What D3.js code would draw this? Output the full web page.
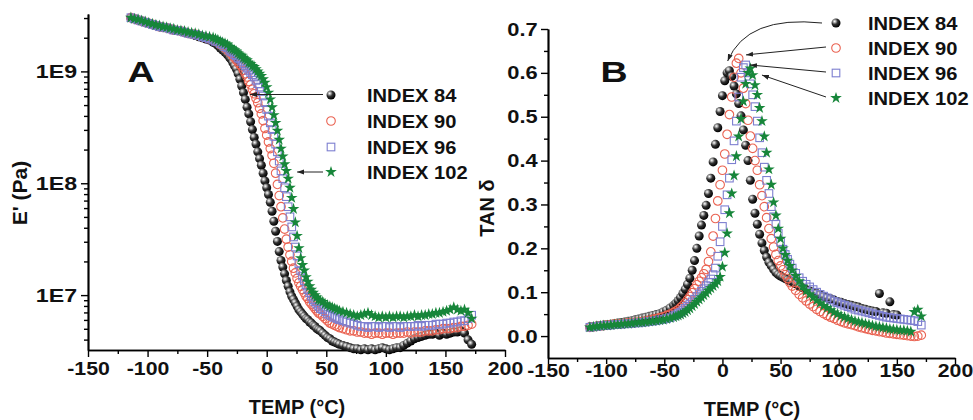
<!DOCTYPE html>
<html>
<head>
<meta charset="utf-8">
<script src="https://cdn.jsdelivr.net/npm/d3@7"></script>
<style>
  body { margin: 0; background: #fff; }
  svg text { font-family: "Liberation Sans", Arial, Helvetica, sans-serif; font-weight: bold; fill: #111; }
</style>
</head>
<body>
<div id="chart"></div>
<script>

// ---- data ----
// panel A : storage modulus E' (Pa) vs temperature
var tempsA = [-114,-111,-108,-105,-102,-99,-96,-93,-90,-87,-84,-81,-78,-75,-72,-69,-66,-63,-60,-57,-54,-51,-48,-45,
  -43,-41,-39,-37,-35,-33,-31,
  -30,-28.5,-27,-25.5,-24,-22.5,-21,-19.5,-18,-16.5,-15,-13.5,-12,-10.5,-9,-7.5,-6,-4.5,-3,-1.5,
  0,1.5,3,4.5,6,7.5,9,10.5,12,13.5,15,16.5,18,19.5,21,22.5,24,25.5,27,28.5,30,31.5,33,34.5,36,37.5,39,40.5,42,43.5,45,
  47,49,51,53,55,57,59,61,
  64,67,70,73,76,79,82,85,88,91,94,97,100,103,106,109,112,115,118,121,124,127,130,133,136,139,142,145,148,151,154,157,160,163,166,169,172];

var modA84 = [3.02e9,2.95e9,2.88e9,2.82e9,2.75e9,2.69e9,2.63e9,2.57e9,2.51e9,2.48e9,2.45e9,2.40e9,2.34e9,2.32e9,2.29e9,2.24e9,2.19e9,2.16e9,2.09e9,2.04e9,2.00e9,1.95e9,1.91e9,1.82e9,
  1.78e9,1.70e9,1.62e9,1.55e9,1.48e9,1.41e9,1.32e9,
  1.29e9,1.20e9,1.12e9,1.05e9,9.55e8,8.51e8,7.41e8,6.46e8,5.62e8,4.79e8,4.17e8,3.55e8,3.02e8,2.57e8,2.24e8,1.91e8,1.66e8,1.45e8,1.23e8,1.05e8,
  9.12e7,7.94e7,6.76e7,5.62e7,4.57e7,3.72e7,3.02e7,2.45e7,2.04e7,1.78e7,1.55e7,1.35e7,1.20e7,1.07e7,9.77e6,9.12e6,8.51e6,7.94e6,7.41e6,7.08e6,6.76e6,6.46e6,6.17e6,6.03e6,5.75e6,5.62e6,5.37e6,5.25e6,5.01e6,4.90e6,4.79e6,
  4.57e6,4.37e6,4.17e6,4.07e6,3.89e6,3.80e6,3.72e6,3.63e6,
  3.55e6,3.47e6,3.39e6,3.31e6,3.31e6,3.24e6,3.31e6,3.24e6,3.31e6,3.24e6,3.31e6,3.39e6,3.31e6,3.24e6,3.31e6,3.39e6,3.39e6,3.55e6,3.72e6,3.89e6,
  4.07e6,4.17e6,4.27e6,4.37e6,4.47e6,4.47e6,4.57e6,4.37e6,4.57e6,4.47e6,4.57e6,4.68e6,4.68e6,4.79e6,4.57e6,3.98e6,3.63e6];

var modA90 = [3.02e9,2.95e9,2.88e9,2.82e9,2.75e9,2.69e9,2.63e9,2.57e9,2.51e9,2.48e9,2.45e9,2.40e9,2.34e9,2.32e9,2.29e9,2.24e9,2.19e9,2.16e9,2.14e9,2.09e9,2.04e9,2.00e9,1.95e9,1.91e9,
  1.86e9,1.82e9,1.74e9,1.70e9,1.62e9,1.55e9,1.48e9,
  1.45e9,1.38e9,1.32e9,1.26e9,1.20e9,1.15e9,1.10e9,1.02e9,9.55e8,8.91e8,8.13e8,7.59e8,6.92e8,6.31e8,5.75e8,5.25e8,4.68e8,4.17e8,3.63e8,3.09e8,
  2.69e8,2.34e8,2.04e8,1.78e8,1.51e8,1.23e8,9.77e7,7.76e7,6.17e7,4.90e7,3.89e7,3.16e7,2.69e7,2.29e7,2.00e7,1.74e7,1.58e7,1.41e7,1.29e7,1.20e7,1.12e7,1.05e7,9.77e6,9.33e6,8.71e6,8.32e6,7.94e6,7.59e6,7.24e6,6.92e6,6.76e6,
  6.46e6,6.17e6,5.89e6,5.62e6,5.50e6,5.37e6,5.25e6,5.13e6,
  5.01e6,4.90e6,4.79e6,4.79e6,4.68e6,4.68e6,4.57e6,4.57e6,4.47e6,4.57e6,4.57e6,4.47e6,4.57e6,4.57e6,4.47e6,4.57e6,4.57e6,4.57e6,4.68e6,4.57e6,
  4.68e6,4.68e6,4.68e6,4.79e6,4.79e6,4.79e6,4.90e6,4.90e6,5.01e6,5.01e6,5.01e6,5.13e6,5.13e6,5.25e6,5.25e6,5.37e6,5.50e6];

var modA96 = [3.02e9,2.95e9,2.88e9,2.82e9,2.75e9,2.69e9,2.63e9,2.57e9,2.51e9,2.48e9,2.45e9,2.40e9,2.34e9,2.32e9,2.29e9,2.24e9,2.19e9,2.16e9,2.14e9,2.09e9,2.04e9,2.00e9,1.95e9,1.91e9,
  1.86e9,1.84e9,1.78e9,1.74e9,1.66e9,1.62e9,1.55e9,
  1.51e9,1.48e9,1.41e9,1.38e9,1.32e9,1.29e9,1.23e9,1.17e9,1.12e9,1.07e9,1.02e9,9.77e8,9.33e8,8.91e8,8.32e8,7.76e8,7.24e8,6.61e8,6.03e8,5.25e8,
  4.57e8,3.98e8,3.47e8,3.02e8,2.63e8,2.24e8,1.91e8,1.58e8,1.29e8,1.10e8,9.12e7,7.59e7,6.17e7,5.01e7,4.07e7,3.31e7,2.69e7,2.24e7,1.91e7,1.66e7,1.48e7,1.35e7,1.23e7,1.12e7,1.05e7,9.77e6,9.12e6,8.71e6,8.32e6,7.94e6,7.59e6,
  7.41e6,7.08e6,6.76e6,6.61e6,6.46e6,6.31e6,6.17e6,6.03e6,
  5.89e6,5.75e6,5.62e6,5.50e6,5.37e6,5.25e6,5.25e6,5.13e6,5.25e6,5.25e6,5.13e6,5.25e6,5.25e6,5.13e6,5.25e6,5.25e6,5.13e6,5.25e6,5.25e6,5.25e6,
  5.25e6,5.37e6,5.25e6,5.37e6,5.37e6,5.37e6,5.50e6,5.50e6,5.50e6,5.62e6,5.62e6,5.75e6,5.75e6,5.89e6,5.89e6,6.17e6,6.61e6];

var modA102 = [3.02e9,2.95e9,2.92e9,2.85e9,2.79e9,2.72e9,2.66e9,2.60e9,2.57e9,2.51e9,2.48e9,2.43e9,2.40e9,2.34e9,2.32e9,2.29e9,2.24e9,2.21e9,2.19e9,2.14e9,2.09e9,2.07e9,2.04e9,2.00e9,
  1.95e9,1.91e9,1.86e9,1.82e9,1.78e9,1.74e9,1.66e9,
  1.62e9,1.58e9,1.55e9,1.51e9,1.45e9,1.41e9,1.38e9,1.32e9,1.29e9,1.26e9,1.20e9,1.17e9,1.12e9,1.10e9,1.05e9,1.00e9,9.55e8,9.12e8,8.51e8,7.94e8,
  7.24e8,6.46e8,5.62e8,4.79e8,4.07e8,3.47e8,2.95e8,2.45e8,2.04e8,1.74e8,1.48e8,1.29e8,1.10e8,9.12e7,7.41e7,5.89e7,4.47e7,3.39e7,2.63e7,2.14e7,1.86e7,1.66e7,1.45e7,1.32e7,1.20e7,1.12e7,1.05e7,1.00e7,9.55e6,9.12e6,8.91e6,
  8.71e6,8.32e6,8.13e6,7.94e6,7.76e6,7.59e6,7.41e6,7.24e6,
  7.08e6,6.92e6,6.76e6,6.61e6,6.46e6,6.61e6,6.76e6,6.92e6,6.61e6,6.46e6,6.31e6,6.46e6,6.31e6,6.46e6,6.31e6,6.46e6,6.46e6,6.31e6,6.46e6,6.46e6,
  6.61e6,6.46e6,6.61e6,6.61e6,6.76e6,6.76e6,6.92e6,6.92e6,7.08e6,7.24e6,7.41e6,7.76e6,7.41e6,7.24e6,7.41e6,6.92e6,6.17e6];

// panel B : tan delta vs temperature
var tempsB = [-114,-111,-108,-105,-102,-99,-96,-93,-90,-87,-84,-81,-78,-75,-72,-69,-66,-63,-60,-57,-54,-51,-48,-45,-42,
  -40,-38,-36,-34,-32,-30,-28,-26,-24,-22,-20,-18,-16,-14,-12,-10,-8,-6,-4,-2,
  0,2,4,6,8,10,12,14,16,18,20,22,24,26,28,30,32,34,36,38,40,42,44,46,48,50,52,54,56,58,60,
  63,66,69,72,75,78,81,84,87,90,93,96,99,102,105,108,111,114,117,120,123,126,129,132,135,138,141,144,147,150,153,156,159,162,165,168,171];

var tanB84 = [0.021,0.022,0.023,0.024,0.025,0.026,0.027,0.028,0.030,0.031,0.032,0.034,0.035,0.037,0.039,0.041,0.043,0.045,0.047,0.049,0.051,0.055,0.059,0.064,0.070,
  0.075,0.081,0.088,0.097,0.107,0.118,0.132,0.150,0.172,0.200,0.228,0.253,0.275,0.298,0.325,0.360,0.397,0.437,0.475,0.512,
  0.548,0.582,0.600,0.605,0.592,0.570,0.552,0.530,0.502,0.470,0.435,0.400,0.355,0.312,0.280,0.255,0.232,0.212,0.195,0.180,0.168,0.160,0.152,0.145,0.140,0.137,0.134,0.131,0.128,0.126,0.124,
  0.119,0.114,0.110,0.106,0.103,0.100,0.097,0.094,0.090,0.087,0.085,0.082,0.079,0.077,0.074,0.072,0.070,0.068,0.066,0.063,0.061,0.059,0.057,0.056,0.097,0.053,0.052,0.078,0.049,0.048,null,null,null,null,null,null,null];

var tanB90 = [0.020,0.021,0.022,0.023,0.024,0.025,0.026,0.027,0.027,0.028,0.029,0.030,0.030,0.031,0.032,0.033,0.034,0.036,0.038,0.040,0.042,0.044,0.047,0.050,0.054,
  0.057,0.060,0.065,0.070,0.076,0.083,0.090,0.099,0.108,0.117,0.125,0.133,0.142,0.152,0.170,0.192,0.228,0.268,0.308,0.345,
  0.378,0.415,0.460,0.505,0.545,0.590,0.622,0.633,0.600,0.565,0.530,0.492,0.456,0.428,0.400,0.378,0.345,0.320,0.295,0.270,0.245,0.222,0.203,0.186,0.172,0.160,0.151,0.140,0.131,0.122,0.114,
  0.104,0.095,0.087,0.080,0.073,0.067,0.061,0.056,0.051,0.047,0.043,0.040,0.036,0.033,0.030,0.028,0.026,0.024,0.021,0.019,0.017,0.015,0.013,0.012,0.010,0.009,0.007,0.006,0.005,0.004,0.003,0.002,0.001,0.000,-0.001,0.000,0.002];

var tanB96 = [0.020,0.021,0.022,0.023,0.024,0.024,0.025,0.026,0.026,0.027,0.028,0.028,0.029,0.030,0.030,0.031,0.032,0.033,0.034,0.035,0.037,0.038,0.040,0.042,0.046,
  0.048,0.051,0.054,0.058,0.063,0.068,0.073,0.078,0.084,0.090,0.096,0.102,0.108,0.115,0.122,0.130,0.140,0.155,0.182,0.215,
  0.250,0.288,0.322,0.360,0.402,0.445,0.490,0.545,0.590,0.612,0.618,0.600,0.575,0.550,0.523,0.490,0.452,0.418,0.385,0.355,0.325,0.295,0.272,0.255,0.234,0.214,0.198,0.186,0.175,0.164,0.155,
  0.143,0.133,0.125,0.118,0.112,0.106,0.100,0.095,0.091,0.087,0.083,0.079,0.076,0.073,0.070,0.067,0.064,0.061,0.059,0.057,0.055,0.053,0.051,0.049,0.047,0.045,0.043,0.042,0.041,0.040,0.039,0.038,0.037,0.036,0.035,0.033,0.025];

var tanB102 = [0.020,0.021,0.022,0.023,0.024,0.024,0.025,0.026,0.026,0.027,0.028,0.028,0.029,0.030,0.031,0.031,0.032,0.033,0.034,0.035,0.036,0.037,0.039,0.041,0.043,
  0.045,0.047,0.049,0.052,0.055,0.059,0.063,0.068,0.073,0.078,0.083,0.088,0.093,0.098,0.104,0.109,0.114,0.119,0.125,0.135,
  0.158,0.190,0.234,0.280,0.325,0.366,0.410,0.455,0.495,0.535,0.575,0.600,0.610,0.595,0.572,0.550,0.520,0.490,0.455,0.418,0.380,0.345,0.305,0.275,0.245,0.222,0.200,0.185,0.172,0.160,0.150,
  0.137,0.125,0.113,0.103,0.095,0.088,0.081,0.075,0.069,0.064,0.059,0.054,0.050,0.046,0.043,0.040,0.037,0.034,0.032,0.030,0.028,0.026,0.024,0.022,0.021,0.019,0.018,0.016,0.015,0.014,0.013,0.013,0.012,0.010,0.055,0.060,0.045];

// legend names and tick values
var seriesNames = ["INDEX 84", "INDEX 90", "INDEX 96", "INDEX 102"];
var tempMajor = [-150, -100, -50, 0, 50, 100, 150, 200];
var tempMinor = [-125, -75, -25, 25, 75, 125, 175];
var modMajor = [1e7, 1e8, 1e9];
var modMinor = [4e6,5e6,6e6,7e6,8e6,9e6, 2e7,3e7,4e7,5e7,6e7,7e7,8e7,9e7, 2e8,3e8,4e8,5e8,6e8,7e8,8e8,9e8, 2e9,3e9];
var tanMajor = [0, 0.1, 0.2, 0.3, 0.4, 0.5, 0.6, 0.7];
var tanMinor = [0.05, 0.15, 0.25, 0.35, 0.45, 0.55, 0.65];

// ---- drawing ----
var redC = "#ea6352", blueC = "#7d7fd0", greenC = "#17863a";

var svg = d3.select("#chart").append("svg")
    .attr("width", 973)
    .attr("height", 420);
svg.append("rect").attr("width", 973).attr("height", 420).attr("fill", "#fff");

var defs = svg.append("defs");
var ball = defs.append("radialGradient").attr("id", "ball")
    .attr("cx", "35%").attr("cy", "32%").attr("r", "68%");
ball.append("stop").attr("offset", "0%").attr("stop-color", "#ffffff");
ball.append("stop").attr("offset", "18%").attr("stop-color", "#bbbbbb");
ball.append("stop").attr("offset", "50%").attr("stop-color", "#333333");
ball.append("stop").attr("offset", "100%").attr("stop-color", "#000000");

defs.append("marker").attr("id", "arrow")
    .attr("markerUnits", "userSpaceOnUse")
    .attr("markerWidth", 8).attr("markerHeight", 6)
    .attr("refX", 7).attr("refY", 3)
    .attr("orient", "auto")
  .append("path").attr("d", "M0,0.5 L7,3 L0,5.5 Z").attr("fill", "#222");

function addShape(sel, kind) {
  if (kind == "ball") sel.append("circle").attr("r", 4.5).attr("fill", "url(#ball)");
  if (kind == "circle") sel.append("circle").attr("r", 4.3).attr("fill", "none")
      .attr("stroke", redC).attr("stroke-width", 1.1);
  if (kind == "square") sel.append("rect").attr("x", -3.8).attr("y", -3.8)
      .attr("width", 7.6).attr("height", 7.6).attr("fill", "none")
      .attr("stroke", blueC).attr("stroke-width", 1.1);
  if (kind == "star") sel.append("path").attr("d", d3.symbol(d3.symbolStar, 42)()).attr("fill", greenC);
}

function drawSeries(g, x, y, temps, vals, kind) {
  var pts = [];
  temps.forEach(function(t, i) { if (vals[i] != null) pts.push([t, vals[i]]); });
  var m = g.append("g").selectAll("g")
    .data(pts)
    .enter()
    .append("g")
      .attr("transform", function(d) { return "translate(" + x(d[0]) + "," + y(d[1]) + ")"; });
  addShape(m, kind);
}

function styleAxis(g, sx) {
  g.attr("font-size", 19).attr("font-family", null);
  g.select(".domain").attr("stroke", "#000").attr("stroke-width", 1.7);
  g.selectAll(".tick line").attr("stroke", "#000").attr("stroke-width", 1.4);
  g.selectAll(".tick text").attr("fill", "#111").attr("transform", "scale(" + sx + ",1)");
}

function label(x, y, txt, size, sx, rot) {
  svg.append("text")
    .attr("transform", "translate(" + x + "," + y + ")" + (rot ? " rotate(-90)" : "") + " scale(" + sx + ",1)")
    .attr("text-anchor", "middle")
    .attr("font-size", size)
    .text(txt);
}

var kinds = ["ball", "circle", "square", "star"];
var fmtT = function(d) { return String(d); };

// ---------- panel A ----------
var xA = d3.scaleLinear().domain([-150, 200]).range([88, 505]);
var yA = d3.scaleLog().domain([3.23e6, 3.26e9]).range([350, 14]);

svg.append("g").attr("transform", "translate(0,350)")
  .call(d3.axisBottom(xA).tickValues(tempMinor).tickSize(4).tickSizeOuter(0).tickFormat(""))
  .call(styleAxis, 1);
svg.append("g").attr("transform", "translate(0,350)")
  .call(d3.axisBottom(xA).tickValues(tempMajor).tickSize(7).tickPadding(5).tickSizeOuter(0).tickFormat(fmtT))
  .call(styleAxis, 1.12);
svg.append("g").attr("transform", "translate(88,0)")
  .call(d3.axisLeft(yA).tickValues(modMinor).tickSize(4).tickSizeOuter(0).tickFormat(""))
  .call(styleAxis, 1);
svg.append("g").attr("transform", "translate(88,0)")
  .call(d3.axisLeft(yA).tickValues(modMajor).tickSize(7).tickPadding(2).tickSizeOuter(0)
        .tickFormat(function(d) { return "1E" + Math.round(Math.log10(d)); }))
  .call(styleAxis, 1.22);

var plotA = svg.append("g");
[modA84, modA90, modA96, modA102].forEach(function(vals, i) {
  drawSeries(plotA, xA, yA, tempsA, vals, kinds[i]);
});

// legend A
var legA = {x: 331, tx: 367, rows: [95, 121, 147, 172]};
seriesNames.forEach(function(n, i) {
  addShape(svg.append("g").attr("transform", "translate(" + legA.x + "," + legA.rows[i] + ")"), kinds[i]);
  svg.append("text")
    .attr("transform", "translate(" + legA.tx + "," + (legA.rows[i] + 7) + ") scale(1.06,1)")
    .attr("font-size", 19)
    .text(n);
});
svg.append("line")
  .attr("x1", legA.x - 8).attr("y1", legA.rows[0] - 0.5)
  .attr("x2", xA(-14)).attr("y2", legA.rows[0] - 0.5)
  .attr("stroke", "#222").attr("stroke-width", 1).attr("marker-end", "url(#arrow)");
svg.append("line")
  .attr("x1", legA.x - 8).attr("y1", legA.rows[3])
  .attr("x2", xA(25.5)).attr("y2", legA.rows[3])
  .attr("stroke", "#222").attr("stroke-width", 1).attr("marker-end", "url(#arrow)");

label(141, 82, "A", 30, 1.25);
label(297, 414, "TEMP (°C)", 20, 1);
label(27, 193, "E' (Pa)", 21, 1, true);

// ---------- panel B ----------
var xB = d3.scaleLinear().domain([-150, 200]).range([548, 955]);
var yB = d3.scaleLinear().domain([-0.05, 0.7]).range([358, 29]);

svg.append("g").attr("transform", "translate(0,358)")
  .call(d3.axisBottom(xB).tickValues(tempMinor).tickSize(4).tickSizeOuter(0).tickFormat(""))
  .call(styleAxis, 1);
svg.append("g").attr("transform", "translate(0,358)")
  .call(d3.axisBottom(xB).tickValues(tempMajor).tickSize(6).tickPadding(0).tickSizeOuter(0).tickFormat(fmtT))
  .call(styleAxis, 1.12);
svg.append("g").attr("transform", "translate(548,0)")
  .call(d3.axisLeft(yB).tickValues(tanMinor).tickSize(4).tickSizeOuter(0).tickFormat(""))
  .call(styleAxis, 1);
svg.append("g").attr("transform", "translate(548,0)")
  .call(d3.axisLeft(yB).tickValues(tanMajor).tickSize(7).tickPadding(2).tickSizeOuter(0).tickFormat(d3.format(".1f")))
  .call(styleAxis, 1.15);

var plotB = svg.append("g");
[tanB84, tanB90, tanB96, tanB102].forEach(function(vals, i) {
  drawSeries(plotB, xB, yB, tempsB, vals, kinds[i]);
});

// legend B with pointer arrows to each peak
var legB = {x: 836, tx: 868, rows: [23, 48, 73, 98]};
seriesNames.forEach(function(n, i) {
  addShape(svg.append("g").attr("transform", "translate(" + legB.x + "," + legB.rows[i] + ")"), kinds[i]);
  svg.append("text")
    .attr("transform", "translate(" + legB.tx + "," + (legB.rows[i] + 7) + ") scale(1.06,1)")
    .attr("font-size", 19)
    .text(n);
});
var tipsB = [[4.5, 0.627], [20.3, 0.641], [23.7, 0.618], [34, 0.595]];
svg.append("path")
  .attr("d", "M" + (legB.x - 14) + "," + legB.rows[0] +
             " Q" + xB(21) + "," + (legB.rows[0] - 8) + " " + xB(tipsB[0][0]) + "," + yB(tipsB[0][1]))
  .attr("fill", "none").attr("stroke", "#222").attr("stroke-width", 1).attr("marker-end", "url(#arrow)");
[1, 2, 3].forEach(function(i) {
  svg.append("line")
    .attr("x1", legB.x - 10).attr("y1", legB.rows[i] - 1)
    .attr("x2", xB(tipsB[i][0])).attr("y2", yB(tipsB[i][1]))
    .attr("stroke", "#222").attr("stroke-width", 1).attr("marker-end", "url(#arrow)");
});

label(614, 82, "B", 30, 1.25);
label(752, 416, "TEMP (°C)", 20, 1);
label(494, 208, "TAN δ", 20, 1, true);

</script>
</body>
</html>
